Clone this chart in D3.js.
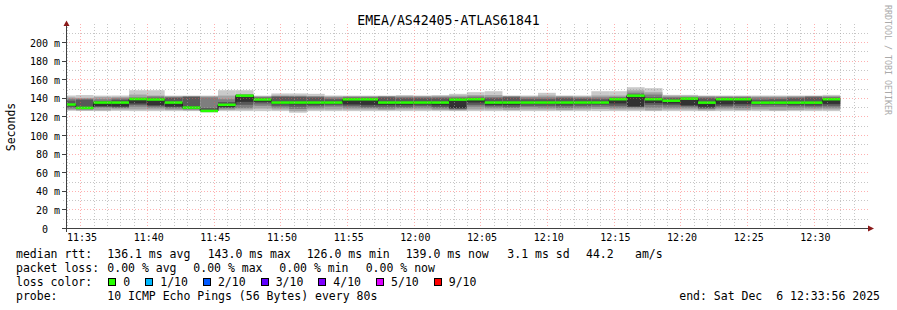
<!DOCTYPE html>
<html>
<head>
<meta charset="utf-8">
<script src="https://cdn.jsdelivr.net/npm/d3@7"></script>
<style>
  body { margin: 0; background: #fff; }
  svg text { font-family: "DejaVu Sans Mono", monospace; white-space: pre; fill: #000; }
</style>
</head>
<body>
<div id="chart"></div>
<script>
// ---- data ----
const title = "EMEA/AS42405-ATLAS61841";
const stepSeconds = 80;
const firstStep = new Date(2025, 11, 6, 11, 33, 20);
const viewStart = new Date(2025, 11, 6, 11, 33, 56);
const viewEnd = new Date(2025, 11, 6, 12, 33, 56);

// 10 sorted pings per 80s step (ms); the 6th one is the median
const pings = [
  [126.5, 127.5, 129, 130.5, 132, 133.3, 137.5, 139.5, 141, 143],
  [126.3, 127, 128, 128.8, 129.2, 129.7, 138.5, 139.5, 140.5, 143.5],
  [126.2, 127, 130, 131, 131.5, 135.4, 137, 139, 141.5, 142.9],
  [126.5, 128, 129.5, 130.5, 131.3, 135.4, 138.5, 140, 141.5, 143],
  [126.2, 128, 131, 133, 134.5, 139.2, 140, 141, 144, 148.7],
  [126.2, 128, 130, 131.5, 132.6, 138.7, 140.5, 142, 143, 148.7],
  [126.2, 127.5, 129, 130.5, 131.2, 135.4, 140.5, 141.5, 142.2, 142.9],
  [126.2, 127, 128, 129, 129.5, 130, 141.5, 142, 142.5, 142.9],
  [124.8, 125.3, 125.6, 126, 126.2, 126.4, 129.5, 141, 142.2, 142.9],
  [126.2, 127.5, 129, 130, 130.5, 133, 136, 139, 142.9, 148.7],
  [126.2, 128, 129.7, 133, 136.2, 142.8, 143.5, 144, 144.5, 148.7],
  [126.2, 129, 132, 134.5, 136.2, 138.7, 140.5, 141.5, 142.2, 142.9],
  [126.2, 128, 130, 132, 134, 135.4, 141.5, 142.5, 143, 145.2],
  [124.5, 126.2, 128.5, 131, 133.5, 135.4, 141.5, 142.3, 143, 145.2],
  [126.2, 128, 130, 132, 133.5, 135.4, 141, 142, 142.5, 144.8],
  [126.2, 128, 131, 132.5, 134, 135.4, 139, 141, 142, 143],
  [126.2, 128, 130, 132, 133.5, 138.9, 140.5, 141.5, 142.3, 142.9],
  [126.2, 128, 129.5, 131, 133, 138.9, 140.5, 141.5, 142.3, 142.9],
  [126.2, 127.5, 129, 131, 133, 135.4, 141, 142, 142.5, 142.9],
  [126.2, 128, 129.5, 131, 133, 135.4, 140, 141.5, 142.5, 143.5],
  [126.2, 128, 130, 132, 133.5, 135.4, 140, 141.5, 142.5, 143],
  [126.2, 127.5, 129, 130.5, 132.5, 135.4, 140, 141.5, 142.5, 143.5],
  [126.2, 127, 128, 128.8, 129.4, 138.6, 140, 141.5, 143, 144.8],
  [126.2, 128, 131, 133, 135.5, 139, 140.5, 142, 143.5, 146.6],
  [126.2, 128, 130, 131.5, 133, 135.4, 140, 141.5, 143.5, 147.6],
  [126.2, 127.5, 129.5, 131, 133, 135.4, 141, 142, 142.5, 143],
  [126.2, 128, 130.5, 132, 134, 135.4, 139, 141, 142, 143],
  [126.2, 128, 130, 132, 134, 135.4, 139, 141, 143, 145.9],
  [126.2, 127.5, 129.5, 131.5, 133.5, 135.4, 140, 141.5, 142.5, 143],
  [126.2, 128, 130, 132, 134, 135.4, 139.5, 141, 142, 143],
  [126.2, 128.5, 130.5, 132.5, 134, 135.4, 139, 141, 143, 147.6],
  [126.2, 128, 130, 132, 134.5, 139, 140.5, 141.5, 143, 147.6],
  [126.2, 128, 130, 131, 131.2, 142.8, 144, 146, 148.5, 151.9],
  [126.2, 127, 130, 133, 135, 139, 141, 144, 146.5, 150.9],
  [126.2, 128, 130, 132.5, 134.5, 137.4, 140, 141.5, 142.8, 143.7],
  [126.2, 128, 130, 131.5, 132.5, 139.6, 140.5, 141.5, 142.8, 143.7],
  [126.2, 127, 128.5, 129.5, 131, 135.3, 140, 141.5, 142.5, 143],
  [126.2, 128, 130, 131.5, 133.5, 139, 140.5, 141.5, 142.3, 143],
  [126.2, 127.5, 129.5, 132, 134, 139, 140.5, 141.5, 142.3, 143],
  [126.2, 128, 130.5, 132.5, 134, 135.3, 138.5, 141, 142, 143],
  [126.2, 127, 130.5, 132.5, 134, 135.3, 139, 141, 142, 143],
  [126.2, 127.5, 130, 132, 133.5, 135.3, 140, 141.5, 142.3, 143],
  [126.2, 128, 130, 131.5, 133.5, 135.3, 141, 142, 142.5, 143],
  [126.2, 128, 130, 132, 134, 139, 140.5, 141.5, 142.5, 143.7]
];

const yMajorTicks = [0, 20, 40, 60, 80, 100, 120, 140, 160, 180, 200];
const yMinorTicks = [10, 30, 50, 70, 90, 110, 130, 150, 170, 190, 210];
const smokeShades = ["#cacaca", "#a4a4a4", "#7e7e7e", "#585858", "#323232"];

const rttStats = ["136.1 ms avg", "143.0 ms max", "126.0 ms min", "139.0 ms now", "3.1 ms sd", "44.2", "am/s"];
const lossStats = ["0.00 % avg", "0.00 % max", "0.00 % min", "0.00 % now"];
const lossLabels = ["0", "1/10", "2/10", "3/10", "4/10", "5/10", "9/10"];
const lossColors = ["#26ff00", "#00b8ff", "#0059ff", "#5e00ff", "#7e00ff", "#dd00ff", "#ff0000"];
const probeText = "10 ICMP Echo Pings (56 Bytes) every 80s";
const endText = "end: Sat Dec  6 12:33:56 2025";

// ---- chart setup ----
const W = 897, H = 310;
const plot = { left: 66, right: 866, top: 24, bottom: 228 };

const svg = d3.select("#chart").append("svg")
    .attr("width", W)
    .attr("height", H);

svg.append("rect").attr("width", W).attr("height", H).attr("fill", "#fff");

const x = d3.scaleTime().domain([viewStart, viewEnd]).range([plot.left, plot.right]);
const y = d3.scaleLinear().domain([0, 220]).range([228.5, 23.9]);

svg.append("clipPath").attr("id", "clip")
    .append("rect")
    .attr("x", plot.left + 0.5).attr("y", 20)
    .attr("width", plot.right - plot.left).attr("height", 210);

const g = svg.append("g").attr("clip-path", "url(#clip)");

const steps = pings.map((p, i) => {
    const t0 = new Date(+firstStep + i * stepSeconds * 1000);
    const t1 = new Date(+t0 + stepSeconds * 1000);
    return { t0, t1, p, median: p[5] };
});

// smoke: outer pair lightest, inner pair darkest
steps.forEach(s => {
    smokeShades.forEach((c, i) => {
        g.append("rect")
            .attr("x", x(s.t0))
            .attr("width", x(s.t1) - x(s.t0))
            .attr("y", y(s.p[9 - i]))
            .attr("height", y(s.p[i]) - y(s.p[9 - i]))
            .attr("fill", c);
    });
});

// median line (dark) with loss coloured band on top
const medPts = steps.map(s => [x(s.t0), y(s.median)]);
medPts.push([x(steps[steps.length - 1].t1), y(steps[steps.length - 1].median)]);
g.append("path")
    .attr("d", d3.line().curve(d3.curveStepAfter)(medPts))
    .attr("fill", "none")
    .attr("stroke", "#202020")
    .attr("stroke-width", 1);

g.selectAll("rect.med")
    .data(steps)
    .enter()
    .append("rect")
    .attr("class", "med")
    .attr("x", d => x(d.t0))
    .attr("width", d => x(d.t1) - x(d.t0))
    .attr("y", d => y(d.median) - 1.25)
    .attr("height", 2.5)
    .attr("fill", lossColors[0]);

// grid over the graph
const grid = svg.append("g");
const minorCol = "rgba(160,160,160,0.6)", majorCol = "rgba(255,80,80,0.45)";
const minutes = d3.timeMinute.range(viewStart, viewEnd);
minutes.forEach(t => {
    const major = t.getMinutes() % 5 === 0;
    const xp = Math.round(x(t)) + 0.5;
    grid.append("line")
        .attr("x1", xp).attr("x2", xp)
        .attr("y1", 24).attr("y2", 231)
        .attr("stroke", major ? majorCol : minorCol)
        .attr("stroke-dasharray", "1,2");
});
yMinorTicks.forEach(v => {
    const yp = Math.round(y(v) - 0.5) + 0.5;
    grid.append("line")
        .attr("x1", 63).attr("x2", 868)
        .attr("y1", yp).attr("y2", yp)
        .attr("stroke", minorCol)
        .attr("stroke-dasharray", "1,2");
});
yMajorTicks.slice(1).forEach(v => {
    const yp = Math.round(y(v) - 0.5) + 0.5;
    grid.append("line")
        .attr("x1", 63).attr("x2", 868)
        .attr("y1", yp).attr("y2", yp)
        .attr("stroke", majorCol)
        .attr("stroke-dasharray", "1,2");
});

// axes
const axisColor = "#404040", arrowColor = "#8b1a1a";
svg.append("line").attr("x1", 62).attr("x2", 869).attr("y1", 228.5).attr("y2", 228.5)
    .attr("stroke", axisColor);
svg.append("line").attr("x1", 66.5).attr("x2", 66.5).attr("y1", 232).attr("y2", 25)
    .attr("stroke", axisColor);
svg.append("path").attr("d", "M868,225.5L874,228.5L868,231.5Z").attr("fill", arrowColor);
svg.append("path").attr("d", "M63.5,26L66.5,20.5L69.5,26Z").attr("fill", arrowColor);

yMajorTicks.forEach(v => {
    const yp = Math.round(y(v) - 0.5) + 0.5;
    svg.append("line").attr("x1", 62).attr("x2", 66).attr("y1", yp).attr("y2", yp)
        .attr("stroke", axisColor);
});

// tick labels via d3 axes
const yAxis = svg.append("g")
    .attr("transform", "translate(60,0)")
    .call(d3.axisLeft(y).tickValues(yMajorTicks).tickSize(0).tickPadding(0)
        .tickFormat(d => d === 0 ? "0\u00a0\u00a0" : d + " m"));
yAxis.select(".domain").remove();
yAxis.selectAll("text").attr("font-size", "10px").attr("dy", "0.36em")
    .style("font-family", "DejaVu Sans Mono");

const xAxis = svg.append("g")
    .attr("transform", "translate(0,232)")
    .call(d3.axisBottom(x).ticks(d3.timeMinute.every(5)).tickSize(0).tickPadding(0)
        .tickFormat(d3.timeFormat("%H:%M")));
xAxis.select(".domain").remove();
xAxis.selectAll("text").attr("font-size", "10px").attr("dy", "0.9em")
    .attr("x", 1.3)
    .style("font-family", "DejaVu Sans Mono");

// title, axis title, watermark
svg.append("text").attr("x", 448.5).attr("y", 25).attr("text-anchor", "middle")
    .attr("font-size", "13.2px").text(title);
svg.append("text").attr("transform", "translate(15,127) rotate(-90)")
    .attr("text-anchor", "middle").attr("font-size", "11.5px").text("Seconds");
svg.append("text").attr("transform", "translate(885,5) rotate(90)")
    .attr("font-size", "8.3px").style("fill", "#aaaaaa").text("RRDTOOL / TOBI OETIKER");

// legend
const fs = "11.5px";
const rows = [258, 272, 286, 300];
const leg = svg.append("g").attr("font-size", fs);
leg.append("text").attr("x", 16).attr("y", rows[0]).text("median rtt:");
const rttX = [107.3, 207.7, 306.7, 405.7, 507.3, 586, 635];
rttStats.forEach((s, i) => leg.append("text").attr("x", rttX[i]).attr("y", rows[0]).text(s));

leg.append("text").attr("x", 16).attr("y", rows[1]).text("packet loss:");
const lossX = [107.3, 193.3, 279.3, 365.7];
lossStats.forEach((s, i) => leg.append("text").attr("x", lossX[i]).attr("y", rows[1]).text(s));

leg.append("text").attr("x", 16).attr("y", rows[2]).text("loss color:");
let lx = 108.3;
lossLabels.forEach((lab, i) => {
    leg.append("rect").attr("x", Math.round(lx) + 0.5).attr("y", rows[2] - 7.5)
        .attr("width", 7).attr("height", 7)
        .attr("fill", lossColors[i]).attr("stroke", "#000");
    const t = leg.append("text").attr("x", lx + 15).attr("y", rows[2]).text(lab);
    lx = lx + 15 + t.node().getComputedTextLength() + 15;
});

leg.append("text").attr("x", 16).attr("y", rows[3]).text("probe:");
leg.append("text").attr("x", 107.3).attr("y", rows[3]).text(probeText);
leg.append("text").attr("x", 880).attr("y", rows[3]).attr("text-anchor", "end").text(endText);
</script>
</body>
</html>
